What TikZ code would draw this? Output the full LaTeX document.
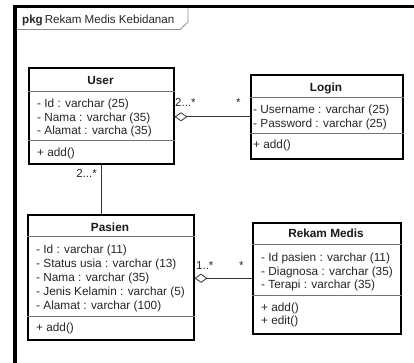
\documentclass[tikz,border=0pt]{standalone}
\usepackage{fontspec}
\setmainfont{Liberation Sans}
\usetikzlibrary{arrows.meta}
\begin{document}
\begin{tikzpicture}[x=1pt,y=-1pt,
  box/.style={draw=black, line width=1.5pt, inner sep=0pt, anchor=north west, fill=white},
  sepline/.style={draw=black!55, line width=0.7pt},
  txt/.style={anchor=base west, inner sep=0pt, font=\fontsize{11.8}{13}\selectfont, text=black!85},
  ttl/.style={anchor=base, inner sep=0pt, font=\bfseries\fontsize{11.8}{13}\selectfont, text=black!90},
  conn/.style={draw=black!80, line width=0.8pt},
  agg/.style={conn, {Diamond[open,length=13pt,width=9pt,line width=0.8pt]}-},
  mult/.style={anchor=base west, inner sep=0pt, font=\fontsize{11.5}{13}\selectfont, text=black!85}]
\useasboundingbox (0,0) rectangle (414,362);
% frame
\draw[line width=3.3pt, line join=miter] (15,370) -- (15,6.7) -- (420,6.7);
\draw[black!45, line width=0.8pt] (16.7,29.5) -- (180,29.5) -- (188,22) -- (188,8.4);
\node[anchor=base west, inner sep=0pt, font=\fontsize{11.6}{13}\selectfont, text=black!85] (pkg) at (22,23) {\textbf{pkg}\,Rekam Medis Kebidanan};
% User
\node[box, minimum width=145pt, minimum height=96pt] (user) at (28,67) {};
\draw[sepline] (user.west |- 0,91) -- (user.east |- 0,91);
\draw[sepline] (user.west |- 0,140) -- (user.east |- 0,140);
\node[ttl] (ut) at (100.5,84) {User};
\node[txt] (u1) at (37,107) {- Id : varchar (25)};
\node[txt] (u2) at (37,121) {- Nama : varchar (35)};
\node[txt] (u3) at (37,134) {- Alamat : varcha (35)};
\node[txt] (u4) at (37,156) {+ add()};
% Login
\node[box, minimum width=152pt, minimum height=84pt] (login) at (250,74) {};
\draw[sepline] (login.west |- 0,97) -- (login.east |- 0,97);
\draw[sepline] (login.west |- 0,133) -- (login.east |- 0,133);
\node[ttl] (lt) at (326,91) {Login};
\node[txt] (l1) at (253,113) {- Username : varchar (25)};
\node[txt] (l2) at (253,127) {- Password : varchar (25)};
\node[txt] (l3) at (253,148) {+ add()};
% Pasien
\node[box, minimum width=166pt, minimum height=125pt] (pasien) at (27,214) {};
\draw[sepline] (pasien.west |- 0,236) -- (pasien.east |- 0,236);
\draw[sepline] (pasien.west |- 0,316) -- (pasien.east |- 0,316);
\node[ttl] (pt) at (110,231) {Pasien};
\node[txt] (p1) at (36,253) {- Id : varchar (11)};
\node[txt] (p2) at (36,267) {- Status usia : varchar (13)};
\node[txt] (p3) at (36,281) {- Nama : varchar (35)};
\node[txt] (p4) at (36,295) {- Jenis Kelamin : varchar (5)};
\node[txt] (p5) at (36,309) {- Alamat : varchar (100)};
\node[txt] (p6) at (36,331) {+ add()};
% Rekam Medis
\node[box, minimum width=148pt, minimum height=111pt] (rekam) at (252,222) {};
\draw[sepline] (rekam.west |- 0,244) -- (rekam.east |- 0,244);
\draw[sepline] (rekam.west |- 0,295) -- (rekam.east |- 0,295);
\node[ttl] (rt) at (326,237) {Rekam Medis};
\node[txt] (r1) at (261,261) {- Id pasien : varchar (11)};
\node[txt] (r2) at (261,275) {- Diagnosa : varchar (35)};
\node[txt] (r3) at (261,288) {- Terapi : varchar (35)};
\node[txt] (r4) at (261,311) {+ add()};
\node[txt] (r5) at (261,324) {+ edit()};
% connectors
\draw[agg] (user.east |- login.west) -- (login.west);
\draw[conn] (user.south) -- (user.south |- pasien.north);
\draw[agg] (pasien.east |- rekam.west) -- (rekam.west);
% multiplicities
\node[mult] (m1) at (175,106) {2...*};
\node[mult] (m2) at (236,106) {*};
\node[mult, anchor=base east] (m3) at (97,177) {2...*};
\node[mult] (m4) at (196,269) {1..*};
\node[mult] (m5) at (239,269) {*};
\end{tikzpicture}
\end{document}
